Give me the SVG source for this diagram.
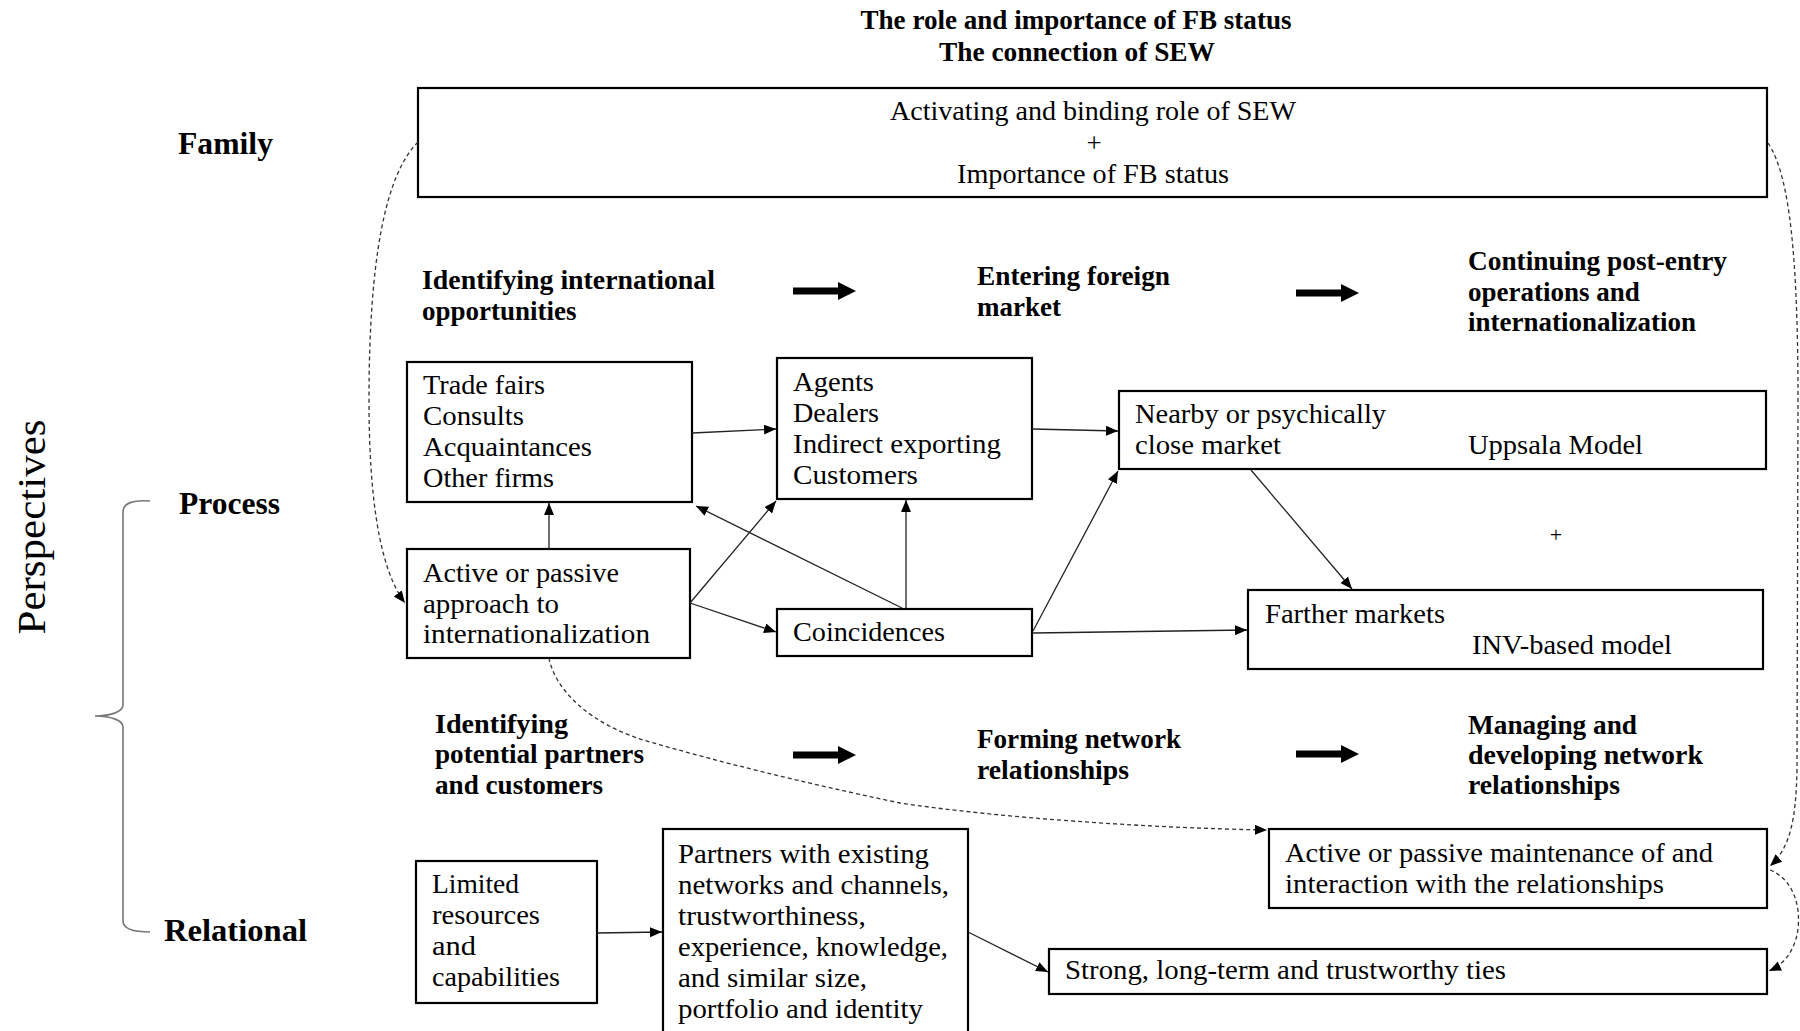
<svg xmlns="http://www.w3.org/2000/svg" xmlns:xlink="http://www.w3.org/1999/xlink" width="1800" height="1031" viewBox="0 0 1800 1031">
<style>
text{font-family:"Liberation Serif","Times New Roman",serif;fill:#000;}
.t{font-size:27px;}
.b{font-size:27px;font-weight:bold;}
.lab{font-size:31px;font-weight:bold;}
.box{fill:#fff;stroke:#000;stroke-width:2.2;}
.ln{fill:none;stroke:#222;stroke-width:1.3;}
.dash{fill:none;stroke:#333;stroke-width:1.3;stroke-dasharray:4 3;}
</style>
<defs>
<marker id="ah" markerUnits="userSpaceOnUse" markerWidth="13" markerHeight="11" refX="12" refY="5" orient="auto">
<path d="M0,0 L12,5 L0,10 Z" fill="#000"/>
</marker>
<path id="bigArrow" d="M0,-3.5 L45,-3.5 L45,-9 L63,0 L45,9 L45,3.5 L0,3.5 Z" fill="#000"/>
</defs>
<rect width="1800" height="1031" fill="#fff"/>

<g id="title">
<text class="b" x="1076" y="29" text-anchor="middle" textLength="431" lengthAdjust="spacingAndGlyphs">The role and importance of FB status</text>
<text class="b" x="1077" y="61" text-anchor="middle" textLength="276" lengthAdjust="spacingAndGlyphs">The connection of SEW</text>
</g>

<g id="perspectives">
<text transform="translate(45,527) rotate(-90)" text-anchor="middle" style="font-size:40px" textLength="215" lengthAdjust="spacingAndGlyphs">Perspectives</text>
<path d="M150,501 C135,500 123,502 123,512 L123,705 C123,712 110,716 95,716 C110,716 123,720 123,727 L123,921 C123,930 135,932 150,932" fill="none" stroke="#777" stroke-width="1.6"/>
<text class="lab" x="178" y="154" textLength="95" lengthAdjust="spacingAndGlyphs">Family</text>
<text class="lab" x="179" y="514" textLength="101" lengthAdjust="spacingAndGlyphs">Process</text>
<text class="lab" x="164" y="941" textLength="143" lengthAdjust="spacingAndGlyphs">Relational</text>
</g>

<g id="family-box">
<rect class="box" x="418" y="88" width="1349" height="109"/>
<text class="t" x="1093" y="120" text-anchor="middle" textLength="406" lengthAdjust="spacingAndGlyphs">Activating and binding role of SEW</text>
<text class="t" x="1094" y="152" text-anchor="middle">+</text>
<text class="t" x="1093" y="183" text-anchor="middle" textLength="272" lengthAdjust="spacingAndGlyphs">Importance of FB status</text>
</g>

<g id="phase-identifying">
<text class="b" x="422" y="289" textLength="293" lengthAdjust="spacingAndGlyphs">Identifying international</text>
<text class="b" x="422" y="320">opportunities</text>
</g>
<g id="phase-entering">
<text class="b" x="977" y="285" textLength="193" lengthAdjust="spacingAndGlyphs">Entering foreign</text>
<text class="b" x="977" y="316">market</text>
</g>
<g id="phase-continuing">
<text class="b" x="1468" y="270" textLength="259" lengthAdjust="spacingAndGlyphs">Continuing post-entry</text>
<text class="b" x="1468" y="301">operations and</text>
<text class="b" x="1468" y="331">internationalization</text>
</g>

<g id="sources">
<rect class="box" x="407" y="362" width="285" height="140"/>
<text class="t" x="423" y="394" textLength="122" lengthAdjust="spacingAndGlyphs">Trade fairs</text>
<text class="t" x="423" y="425" textLength="101" lengthAdjust="spacingAndGlyphs">Consults</text>
<text class="t" x="423" y="456" textLength="169" lengthAdjust="spacingAndGlyphs">Acquaintances</text>
<text class="t" x="423" y="487" textLength="131" lengthAdjust="spacingAndGlyphs">Other firms</text>
</g>

<g id="approach">
<rect class="box" x="407" y="549" width="283" height="109"/>
<text class="t" x="423" y="582" textLength="196" lengthAdjust="spacingAndGlyphs">Active or passive</text>
<text class="t" x="423" y="613" textLength="136" lengthAdjust="spacingAndGlyphs">approach to</text>
<text class="t" x="423" y="643" textLength="227" lengthAdjust="spacingAndGlyphs">internationalization</text>
</g>

<g id="agents">
<rect class="box" x="777" y="358" width="255" height="141"/>
<text class="t" x="793" y="391" textLength="81" lengthAdjust="spacingAndGlyphs">Agents</text>
<text class="t" x="793" y="422" textLength="86" lengthAdjust="spacingAndGlyphs">Dealers</text>
<text class="t" x="793" y="453" textLength="208" lengthAdjust="spacingAndGlyphs">Indirect exporting</text>
<text class="t" x="793" y="484" textLength="125" lengthAdjust="spacingAndGlyphs">Customers</text>
</g>

<g id="coincidences">
<rect class="box" x="777" y="609" width="255" height="47"/>
<text class="t" x="793" y="641" textLength="152" lengthAdjust="spacingAndGlyphs">Coincidences</text>
</g>

<g id="nearby">
<rect class="box" x="1119" y="391" width="647" height="78"/>
<text class="t" x="1135" y="423" textLength="251" lengthAdjust="spacingAndGlyphs">Nearby or psychically</text>
<text class="t" x="1135" y="454" textLength="146" lengthAdjust="spacingAndGlyphs">close market</text>
<text class="t" x="1468" y="454" textLength="175" lengthAdjust="spacingAndGlyphs">Uppsala Model</text>
</g>

<g id="plus">
<text x="1556" y="542" text-anchor="middle" style="font-size:22px">+</text>
</g>

<g id="farther">
<rect class="box" x="1248" y="590" width="515" height="79"/>
<text class="t" x="1265" y="623" textLength="180" lengthAdjust="spacingAndGlyphs">Farther markets</text>
<text class="t" x="1472" y="654" textLength="200" lengthAdjust="spacingAndGlyphs">INV-based model</text>
</g>

<g id="phase-partners">
<text class="b" x="435" y="733" textLength="133" lengthAdjust="spacingAndGlyphs">Identifying</text>
<text class="b" x="435" y="763" textLength="209" lengthAdjust="spacingAndGlyphs">potential partners</text>
<text class="b" x="435" y="794" textLength="168" lengthAdjust="spacingAndGlyphs">and customers</text>
</g>
<g id="phase-forming">
<text class="b" x="977" y="748" textLength="204" lengthAdjust="spacingAndGlyphs">Forming network</text>
<text class="b" x="977" y="779" textLength="152" lengthAdjust="spacingAndGlyphs">relationships</text>
</g>
<g id="phase-managing">
<text class="b" x="1468" y="734" textLength="169" lengthAdjust="spacingAndGlyphs">Managing and</text>
<text class="b" x="1468" y="764" textLength="235" lengthAdjust="spacingAndGlyphs">developing network</text>
<text class="b" x="1468" y="794" textLength="152" lengthAdjust="spacingAndGlyphs">relationships</text>
</g>

<g id="limited">
<rect class="box" x="416" y="861" width="181" height="142"/>
<text class="t" x="432" y="893" textLength="87" lengthAdjust="spacingAndGlyphs">Limited</text>
<text class="t" x="432" y="924" textLength="108" lengthAdjust="spacingAndGlyphs">resources</text>
<text class="t" x="432" y="955" textLength="44" lengthAdjust="spacingAndGlyphs">and</text>
<text class="t" x="432" y="986" textLength="128" lengthAdjust="spacingAndGlyphs">capabilities</text>
</g>

<g id="partners">
<rect class="box" x="663" y="829" width="305" height="220"/>
<text class="t" x="678" y="863" textLength="251" lengthAdjust="spacingAndGlyphs">Partners with existing</text>
<text class="t" x="678" y="894" textLength="271" lengthAdjust="spacingAndGlyphs">networks and channels,</text>
<text class="t" x="678" y="925" textLength="188" lengthAdjust="spacingAndGlyphs">trustworthiness,</text>
<text class="t" x="678" y="956" textLength="270" lengthAdjust="spacingAndGlyphs">experience, knowledge,</text>
<text class="t" x="678" y="987" textLength="189" lengthAdjust="spacingAndGlyphs">and similar size,</text>
<text class="t" x="678" y="1018" textLength="245" lengthAdjust="spacingAndGlyphs">portfolio and identity</text>
</g>

<g id="maintenance">
<rect class="box" x="1269" y="829" width="498" height="79"/>
<text class="t" x="1285" y="862" textLength="428" lengthAdjust="spacingAndGlyphs">Active or passive maintenance of and</text>
<text class="t" x="1285" y="893" textLength="379" lengthAdjust="spacingAndGlyphs">interaction with the relationships</text>
</g>

<g id="ties">
<rect class="box" x="1049" y="949" width="718" height="45"/>
<text class="t" x="1065" y="979" textLength="441" lengthAdjust="spacingAndGlyphs">Strong, long-term and trustworthy ties</text>
</g>

<g id="connectors">
<use xlink:href="#bigArrow" x="793" y="291"/>
<use xlink:href="#bigArrow" x="1296" y="293"/>
<use xlink:href="#bigArrow" x="793" y="755"/>
<use xlink:href="#bigArrow" x="1296" y="754"/>

<path class="ln" d="M549,549 L549,503" marker-end="url(#ah)"/>
<path class="ln" d="M692,433 L776,429" marker-end="url(#ah)"/>
<path class="ln" d="M1032,429 L1118,431" marker-end="url(#ah)"/>
<path class="ln" d="M690,603 L776,501" marker-end="url(#ah)"/>
<path class="ln" d="M690,603 L776,632" marker-end="url(#ah)"/>
<path class="ln" d="M902,608 L696,506" marker-end="url(#ah)"/>
<path class="ln" d="M906,608 L906,500" marker-end="url(#ah)"/>
<path class="ln" d="M1033,631 L1118,471" marker-end="url(#ah)"/>
<path class="ln" d="M1033,633 L1247,630" marker-end="url(#ah)"/>
<path class="ln" d="M1251,470 L1352,589" marker-end="url(#ah)"/>
<path class="ln" d="M597,933 L662,932" marker-end="url(#ah)"/>
<path class="ln" d="M968,932 L1048,972" marker-end="url(#ah)"/>

<path class="dash" d="M418,142 C385,175 369,260 369,400 C369,500 380,570 405,603" marker-end="url(#ah)"/>
<path class="dash" d="M1768,143 C1790,175 1798,260 1798,400 L1797,770 C1796,820 1790,848 1770,866" marker-end="url(#ah)"/>
<path class="dash" d="M1770,870 C1795,880 1802,910 1797,935 C1792,955 1782,965 1769,971" marker-end="url(#ah)"/>
<path class="dash" d="M549,658 C555,690 590,725 650,742 C720,762 800,782 900,803 C1000,818 1150,828 1267,830" marker-end="url(#ah)"/>
</g>
</svg>
